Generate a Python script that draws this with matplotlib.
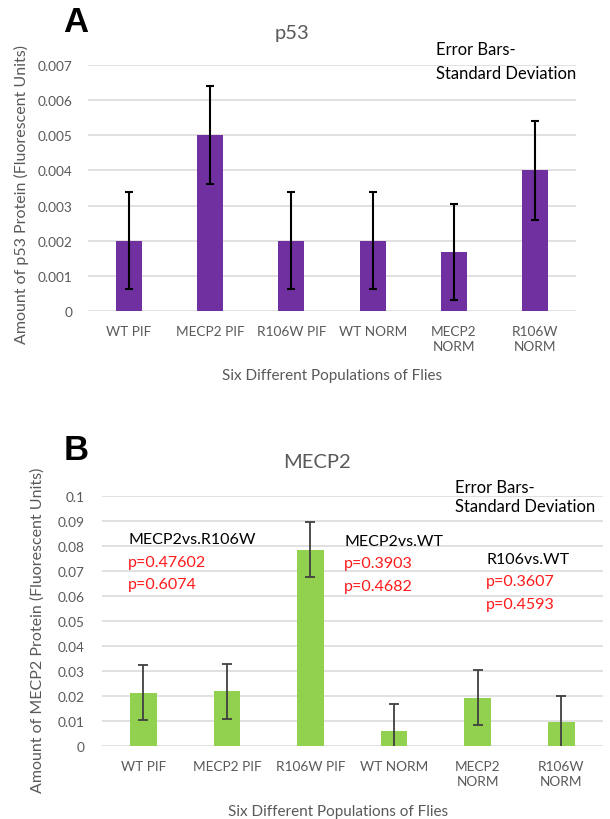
import numpy as np
import matplotlib
matplotlib.use('Agg')
from matplotlib import pyplot as plt

plt.rcParams['font.family'] = ['Lato', 'DejaVu Sans']

groups = ['WT PIF', 'MECP2 PIF', 'R106W PIF', 'WT NORM', 'MECP2\nNORM', 'R106W\nNORM']

# panel A: p53
p53_mean = [0.0020, 0.0050, 0.0020, 0.0020, 0.00168, 0.0040]
p53_sd = [0.00138, 0.00140, 0.00138, 0.00138, 0.00137, 0.00140]
p53_ticks = [0, 0.001, 0.002, 0.003, 0.004, 0.005, 0.006, 0.007]
p53_ticklabels = ['0', '0.001', '0.002', '0.003', '0.004', '0.005', '0.006', '0.007']

# panel B: MECP2
mecp2_mean = [0.0213, 0.0220, 0.0786, 0.0062, 0.0193, 0.0098]
mecp2_sd = [0.0110, 0.0110, 0.0110, 0.0106, 0.0110, 0.0104]
mecp2_ticks = [0, 0.01, 0.02, 0.03, 0.04, 0.05, 0.06, 0.07, 0.08, 0.09, 0.1]
mecp2_ticklabels = ['0', '0.01', '0.02', '0.03', '0.04', '0.05', '0.06', '0.07', '0.08', '0.09', '0.1']

# p-value annotations in panel B
comparisons = ['MECP2vs.R106W', 'MECP2vs.WT', 'R106vs.WT']
pvalues = [['p=0.47602', 'p=0.6074'], ['p=0.3903', 'p=0.4682'], ['p=0.3607', 'p=0.4593']]

W, H = 610, 820
fig = plt.figure(figsize=(W / 100, H / 100), dpi=100)

gray = '#595959'
grid = '#D9D9D9'


def px(x, y):
    return x / W, 1 - y / H


def axes_px(x0, x1, y0, y1):
    # y0 = top pixel, y1 = bottom pixel
    return fig.add_axes([x0 / W, 1 - y1 / H, (x1 - x0) / W, (y1 - y0) / H])


def style(ax, ticks, ticklabels, ypad):
    x = np.arange(len(groups))
    ax.set_xlim(-0.5, len(groups) - 0.5)
    ax.set_ylim(ticks[0], ticks[-1])
    ax.set_yticks(ticks)
    ax.set_yticklabels(ticklabels)
    ax.set_xticks(x)
    ax.set_xticklabels(groups, linespacing=1.35, va='top')
    ax.tick_params(length=0, labelsize=9.8, colors=gray)
    ax.tick_params(axis='y', pad=ypad)
    ax.tick_params(axis='x', pad=10)
    for s in ax.spines.values():
        s.set_visible(False)
    ax.yaxis.grid(True, color=grid, lw=1.1)
    ax.set_axisbelow(True)


# ---- A ----
axA = axes_px(88, 576, 66, 312)
x = np.arange(len(groups))
axA.bar(x, p53_mean, width=0.32, color='#7030A0', zorder=2)
axA.errorbar(x, p53_mean, yerr=p53_sd, fmt='none', ecolor='black',
             elinewidth=1.5, capsize=3, capthick=1.5, zorder=3)
style(axA, p53_ticks, p53_ticklabels, 11)

fig.text(*px(63, 23), 'A', fontsize=25, fontweight='bold',
         family='Liberation Sans', va='center', ha='left')
fig.text(*px(292, 33), 'p53', fontsize=14.5, color=gray, ha='center', va='center')
fig.text(*px(436, 50), 'Error Bars-', fontsize=12, ha='left', va='center')
fig.text(*px(436, 74), 'Standard Deviation', fontsize=12, ha='left', va='center')
fig.text(*px(21, 195), 'Amount of p53 Protein (Fluorescent Units)', fontsize=11.5,
         color=gray, rotation=90, ha='center', va='center')
fig.text(*px(332, 376), 'Six Different Populations of Flies', fontsize=11,
         color=gray, ha='center', va='center')

# ---- B ----
axB = axes_px(101.5, 603, 497, 747)
axB.bar(x, mecp2_mean, width=0.32, color='#92D050', zorder=2)
axB.errorbar(x, mecp2_mean, yerr=mecp2_sd, fmt='none', ecolor='#404040',
             elinewidth=1.3, capsize=3.5, capthick=1.3, zorder=3)
style(axB, mecp2_ticks, mecp2_ticklabels, 12)

fig.text(*px(64, 450), 'B', fontsize=25, fontweight='bold',
         family='Liberation Sans', va='center', ha='left')
fig.text(*px(317, 463), 'MECP2', fontsize=14.5, color=gray, ha='center', va='center')
fig.text(*px(455, 488), 'Error Bars-', fontsize=12, ha='left', va='center')
fig.text(*px(455, 507), 'Standard Deviation', fontsize=12, ha='left', va='center')
fig.text(*px(38, 630), 'Amount of MECP2 Protein (Fluorescent Units)', fontsize=11.5,
         color=gray, rotation=90, ha='center', va='center')
fig.text(*px(338, 812), 'Six Different Populations of Flies', fontsize=11,
         color=gray, ha='center', va='center')

ann_x = [128, 344, 486]
ann_y = [540, 542, 560]
for name, pv, ax0, ay0 in zip(comparisons, pvalues, ann_x, ann_y):
    fig.text(*px(ax0, ay0), name, fontsize=11.5, color='black', ha='left', va='center')
    for k, p in enumerate(pv):
        fig.text(*px(ax0, ay0 + 22.5 * (k + 1)), p, fontsize=11.5, color='#FF1A1A',
                 ha='left', va='center')

fig.savefig('out.png', dpi=100)
